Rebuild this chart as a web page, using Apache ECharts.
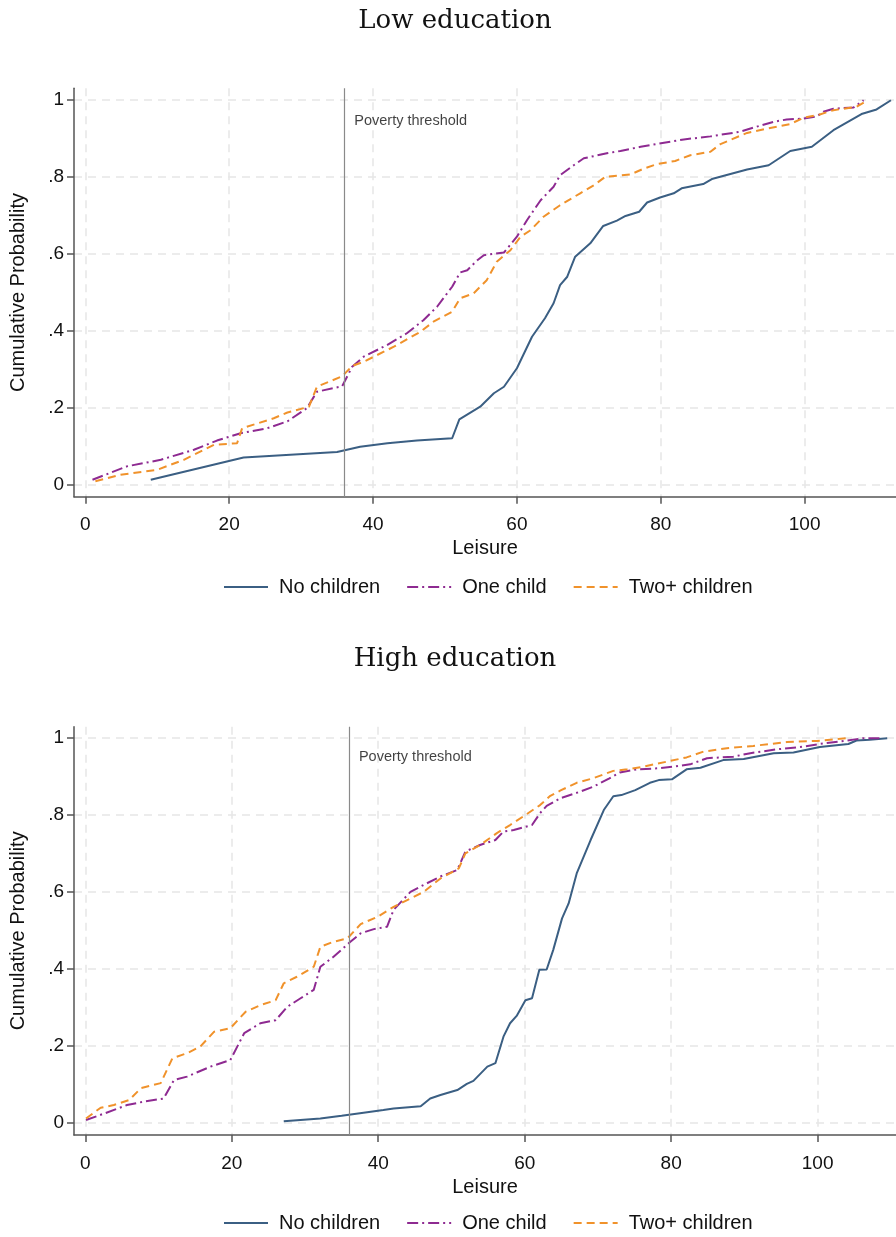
<!DOCTYPE html>
<html>
<head>
<meta charset="utf-8">
<script src="https://cdn.jsdelivr.net/npm/echarts@6/dist/echarts.min.js"></script>
<style>html,body{margin:0;padding:0;background:#fff}#c{width:896px;height:1237px}</style>
</head>
<body>
<div id="c"></div>
<script>
// ---------- data ----------
const panelTitles = ['Low education', 'High education'];
const seriesNames = ['No children', 'One child', 'Two+ children'];
const xAxisName = 'Leisure';
const yAxisName = 'Cumulative Probability';
const xTicks = [0, 20, 40, 60, 80, 100];
const yTicks = [0, 0.2, 0.4, 0.6, 0.8, 1];
const yTickLabels = ['0', '.2', '.4', '.6', '.8', '1'];
const povertyThreshold = 36;
const povertyLabel = 'Poverty threshold';
const povertyLabelY = [0.945, 0.951];

const lowNone = [[9.1,0.013],[22.0,0.071],[35.0,0.085],[38.2,0.099],[42.0,0.108],[46.1,0.115],[51.0,0.121],[52.0,0.17],[54.9,0.203],[56.8,0.238],[58.2,0.255],[60.0,0.303],[62.1,0.385],[63.9,0.433],[65.1,0.472],[66.0,0.519],[67.0,0.541],[68.1,0.593],[70.2,0.628],[72.0,0.673],[73.9,0.687],[75.1,0.699],[77.0,0.71],[78.1,0.734],[79.9,0.747],[81.8,0.758],[82.9,0.771],[85.9,0.782],[87.1,0.795],[92.0,0.82],[95.0,0.831],[98.0,0.868],[101.0,0.879],[104.0,0.922],[107.9,0.964],[110.0,0.976],[112.0,1.0]];
const lowOne = [[1.0,0.013],[5.8,0.048],[10.5,0.065],[15.1,0.091],[18.3,0.115],[21.6,0.134],[25.3,0.147],[28.1,0.165],[30.8,0.199],[32.2,0.242],[35.7,0.256],[37.1,0.307],[38.7,0.333],[42.0,0.364],[44.7,0.394],[47.0,0.428],[48.9,0.463],[51.0,0.515],[52.1,0.552],[53.1,0.558],[54.5,0.584],[55.4,0.597],[58.2,0.604],[60.0,0.645],[61.4,0.688],[63.3,0.74],[65.1,0.775],[66.0,0.805],[67.9,0.831],[69.3,0.849],[72.5,0.862],[74.4,0.868],[77.2,0.879],[83.2,0.898],[86.9,0.906],[91.0,0.918],[93.3,0.931],[95.7,0.944],[97.5,0.95],[99.8,0.952],[101.7,0.958],[102.6,0.97],[104.0,0.978],[106.8,0.981],[108.2,1.0]];
const lowTwo = [[1.4,0.009],[4.9,0.026],[10.0,0.039],[13.7,0.065],[17.9,0.104],[21.1,0.108],[21.8,0.147],[26.2,0.173],[28.1,0.188],[31.1,0.203],[32.2,0.255],[35.7,0.282],[37.1,0.309],[38.7,0.32],[42.9,0.359],[46.6,0.398],[48.4,0.424],[51.0,0.45],[52.1,0.485],[54.0,0.498],[55.8,0.532],[57.2,0.58],[59.1,0.61],[60.5,0.645],[61.9,0.662],[63.7,0.697],[66.0,0.727],[68.8,0.758],[70.7,0.779],[72.3,0.801],[75.8,0.807],[77.6,0.822],[79.5,0.834],[82.0,0.842],[84.1,0.857],[86.9,0.866],[88.3,0.886],[92.0,0.915],[94.7,0.926],[98.0,0.938],[99.8,0.954],[102.1,0.963],[104.0,0.974],[107.2,0.983],[108.8,1.0]];

const highNone = [[27.1,0.003],[32.1,0.01],[35.0,0.017],[38.0,0.025],[40.7,0.032],[42.1,0.036],[45.8,0.042],[47.1,0.062],[48.5,0.071],[50.8,0.084],[52.1,0.10],[53.0,0.108],[54.9,0.145],[56.0,0.154],[57.1,0.223],[58.0,0.258],[58.9,0.277],[60.1,0.318],[61.0,0.323],[62.0,0.397],[63.0,0.398],[63.9,0.449],[65.1,0.531],[66.0,0.57],[67.1,0.648],[69.0,0.735],[70.8,0.813],[72.1,0.849],[73.2,0.852],[75.1,0.865],[77.1,0.884],[78.3,0.891],[80.1,0.893],[82.1,0.919],[84.0,0.923],[87.1,0.943],[89.9,0.946],[94.0,0.961],[96.7,0.963],[100.3,0.977],[104.2,0.985],[105.3,0.994],[107.1,0.996],[109.5,1.0]];
const highOne = [[0.1,0.006],[2.6,0.023],[5.7,0.045],[8.0,0.054],[10.7,0.062],[12.1,0.11],[13.9,0.119],[17.1,0.145],[19.8,0.162],[21.7,0.232],[23.9,0.258],[26.0,0.266],[27.6,0.301],[29.4,0.323],[31.2,0.345],[32.1,0.405],[33.9,0.431],[36.2,0.47],[37.6,0.492],[39.4,0.503],[41.2,0.509],[42.1,0.553],[44.4,0.60],[46.2,0.618],[48.5,0.64],[50.8,0.657],[51.9,0.705],[53.9,0.722],[56.0,0.735],[57.1,0.757],[58.5,0.761],[61.0,0.774],[62.1,0.805],[63.0,0.824],[64.9,0.844],[67.6,0.861],[69.4,0.874],[71.5,0.895],[73.0,0.911],[75.3,0.919],[78.5,0.922],[80.3,0.926],[82.6,0.932],[84.9,0.948],[88.5,0.952],[90.8,0.961],[94.4,0.971],[97.6,0.977],[100.3,0.985],[104.0,0.994],[106.2,1.0],[108.5,1.0]];
const highTwo = [[0.1,0.01],[2.1,0.038],[3.9,0.045],[6.0,0.058],[7.6,0.089],[10.3,0.102],[11.9,0.167],[13.9,0.18],[15.7,0.197],[17.6,0.236],[19.8,0.245],[21.9,0.288],[23.9,0.305],[26.0,0.318],[27.1,0.362],[28.9,0.379],[31.2,0.405],[32.1,0.457],[33.9,0.47],[35.8,0.479],[37.6,0.516],[39.9,0.535],[42.1,0.561],[46.2,0.60],[48.5,0.635],[51.0,0.661],[51.9,0.70],[53.9,0.722],[56.2,0.753],[58.0,0.774],[60.1,0.80],[62.1,0.826],[63.5,0.85],[64.9,0.864],[67.1,0.884],[69.4,0.896],[72.1,0.915],[74.0,0.919],[76.2,0.926],[79.4,0.939],[82.1,0.95],[84.4,0.965],[87.6,0.974],[91.2,0.98],[95.8,0.99],[99.9,0.993],[104.0,1.0]];

// ---------- layout / style ----------
const FONT = '"Liberation Sans", Arial, sans-serif';
const TEXT = '#111';
const colors = ['#3b5f83', '#8e2a91', '#f0922b'];
const lineTypes = ['solid', [11, 4, 2, 4], [8, 5]];
const axisColor = '#555';
const panels = [
  {top: 88.3, height: 408.4, xMin: -1.57, xMax: 112.7, yMin: -0.031, yMax: 1.031, titleTop: 8, legendTop: 572, data: [lowNone, lowOne, lowTwo]},
  {top: 726.7, height: 408.3, xMin: -1.54, xMax: 110.7, yMin: -0.033, yMax: 1.030, titleTop: 646, legendTop: 1208, data: [highNone, highOne, highTwo]}
];

const option = {
  animation: false,
  backgroundColor: '#fff',
  title: panels.map((p, i) => ({
    text: panelTitles[i], left: 455, textAlign: 'center', top: p.titleTop, padding: 0,
    textStyle: {fontFamily: '"DejaVu Serif", serif', fontSize: 26, fontWeight: 'normal', color: '#111'}
  })),
  legend: panels.map(p => ({
    data: seriesNames, top: p.legendTop, left: 218, itemWidth: 44, itemHeight: 14, itemGap: 26,
    itemStyle: {opacity: 0},
    textStyle: {fontFamily: FONT, fontSize: 20, color: TEXT, padding: [0, 0, 0, 6]}
  })),
  grid: panels.map(p => ({left: 73.3, right: 0, top: p.top, height: p.height})),
  xAxis: panels.map((p, i) => ({
    type: 'value', gridIndex: i, min: p.xMin, max: p.xMax,
    name: xAxisName, nameLocation: 'middle', nameGap: 42,
    nameTextStyle: {fontFamily: FONT, fontSize: 20, color: TEXT},
    axisLine: {show: true, onZero: false, lineStyle: {color: axisColor, width: 1.5}},
    axisTick: {show: true, length: 7, customValues: xTicks, lineStyle: {color: axisColor, width: 1.5}},
    axisLabel: {customValues: xTicks, fontFamily: FONT, fontSize: 19, color: TEXT, margin: 19},
    splitLine: {show: true, lineStyle: {type: [8, 6], color: '#e6e6e6', width: 1.5}}
  })),
  yAxis: panels.map((p, i) => ({
    type: 'value', gridIndex: i, min: p.yMin, max: p.yMax,
    name: yAxisName, nameLocation: 'middle', nameGap: 46,
    nameTextStyle: {fontFamily: FONT, fontSize: 20, color: TEXT},
    axisLine: {show: true, onZero: false, lineStyle: {color: axisColor, width: 1.5}},
    axisTick: {show: true, length: 7, customValues: yTicks, lineStyle: {color: axisColor, width: 1.5}},
    axisLabel: {
      customValues: yTicks, fontFamily: FONT, fontSize: 19, color: TEXT, margin: 10,
      formatter: v => { let best = 0; yTicks.forEach((t, k) => { if (Math.abs(t - v) < Math.abs(yTicks[best] - v)) best = k; }); return yTickLabels[best]; }
    },
    splitLine: {show: true, lineStyle: {type: [8, 6], color: '#e6e6e6', width: 1.5}}
  })),
  series: []
};

panels.forEach((p, i) => {
  p.data.forEach((d, k) => {
    const s = {
      type: 'line', name: seriesNames[k], xAxisIndex: i, yAxisIndex: i, data: d,
      symbol: 'none', showSymbol: false, silent: true,
      color: colors[k],
      lineStyle: {color: colors[k], width: 2, type: lineTypes[k]}
    };
    if (k === 0) {
      s.markLine = {
        silent: true, symbol: ['none', 'none'], label: {show: false},
        lineStyle: {color: '#8a8a8a', width: 1.2, type: 'solid'},
        data: [{xAxis: povertyThreshold}]
      };
    }
    option.series.push(s);
  });
  option.series.push({
    type: 'scatter', name: 'threshold-label', xAxisIndex: i, yAxisIndex: i, silent: true,
    symbolSize: 0, data: [[povertyThreshold, povertyLabelY[i]]],
    label: {show: true, position: 'right', distance: 10, formatter: povertyLabel, fontFamily: FONT, fontSize: 14.5, color: '#111'}
  });
});

const chart = echarts.init(document.getElementById('c'), null, {renderer: 'canvas'});
chart.setOption(option);
</script>
</body>
</html>
